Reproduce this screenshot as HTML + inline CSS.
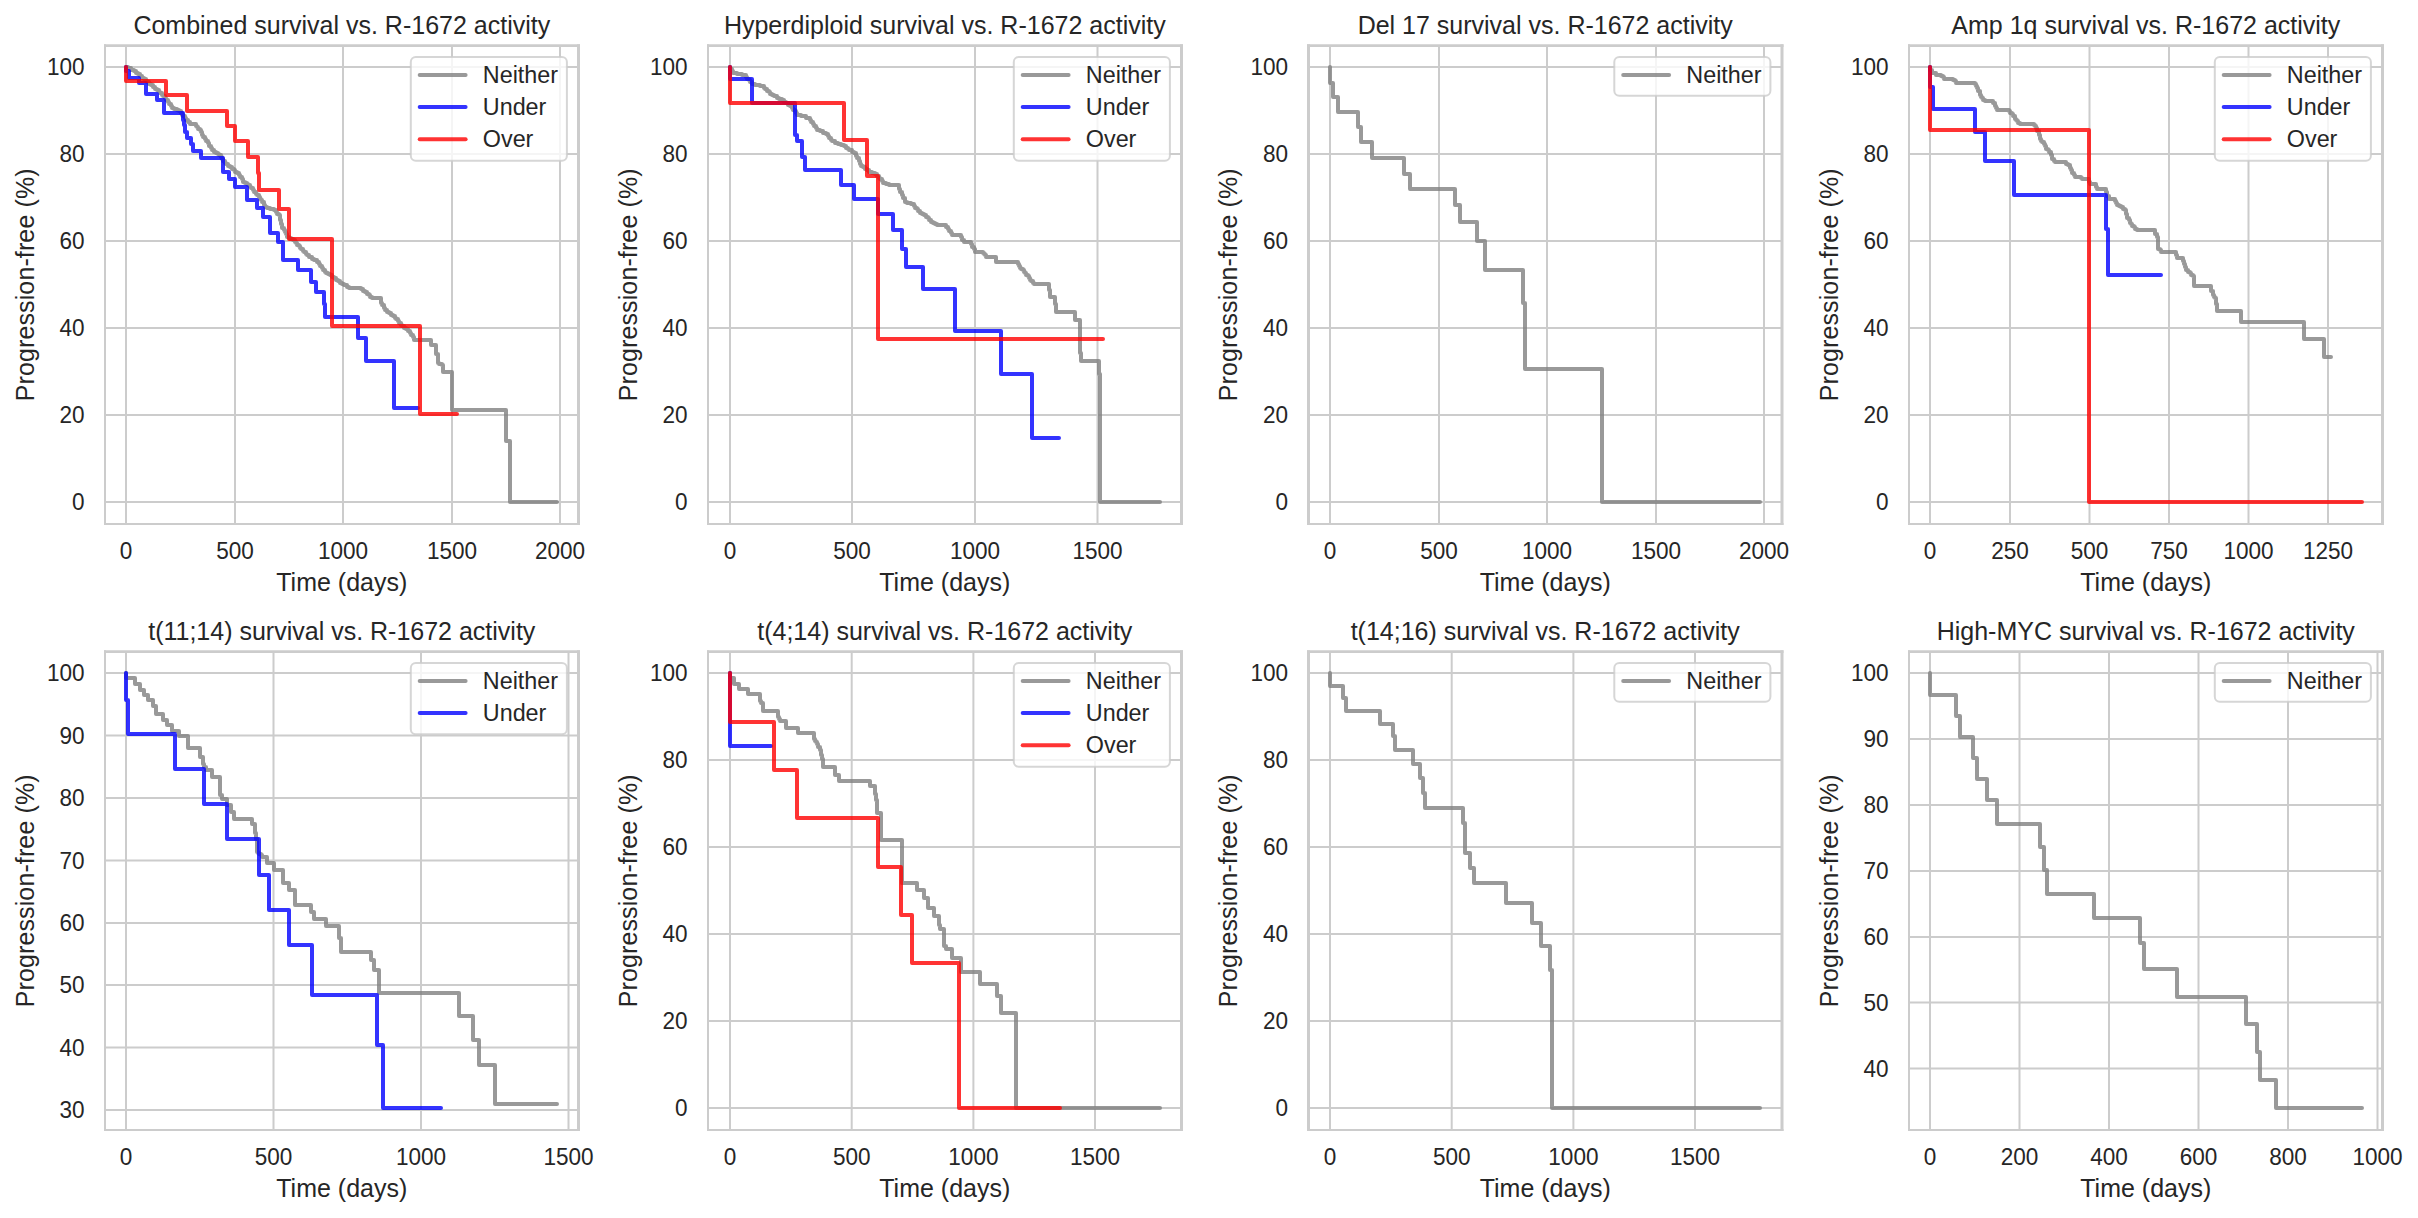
<!DOCTYPE html>
<html lang="en">
<head>
<meta charset="utf-8">
<title>Survival vs. R-1672 activity</title>
<style>
html,body{margin:0;padding:0;background:#ffffff;}
body{width:2418px;height:1218px;overflow:hidden;}
svg{display:block;}
text{font-family:"Liberation Sans",Arial,Helvetica,sans-serif;fill:#262626;}
.tk{font-size:22.9px;}
.lb{font-size:25px;}
.g{stroke:#cccccc;stroke-width:2.0;fill:none;}
.sp{stroke:#cccccc;stroke-width:2.5;fill:none;stroke-linecap:butt;}
.ln{fill:none;stroke-width:4.0;stroke-opacity:0.8;stroke-linejoin:round;stroke-linecap:round;}
.lg{fill:#ffffff;fill-opacity:0.8;stroke:#cccccc;stroke-opacity:0.8;stroke-width:2;}
</style>
</head>
<body>
<svg width="2418" height="1218" viewBox="0 0 2418 1218">
<rect x="0" y="0" width="2418" height="1218" fill="#ffffff"/>
<g id="panel1">
<path class="g" d="M126 45.6V524M235 45.6V524M343 45.6V524M452 45.6V524M560 45.6V524M105 67H578.5M105 154H578.5M105 241H578.5M105 328H578.5M105 415H578.5M105 502H578.5"/>
<polyline class="ln" stroke="#808080" points="126,67 128,67 128,68 131,68 131,70 134,70 134,71 135,71 136,71 136,73 138,73 138,74 140,74 140,76 142,76 142,78 143,78 144,78 144,79 146,79 146,81 147,81 147,82 149,82 149,84 150,84 151,84 151,85 153,85 153,87 155,87 155,89 157,89 157,90 158,90 159,90 159,92 160,92 160,93 162,93 162,95 163,95 163,96 165,96 165,98 166,98 166,100 168,100 168,102 169,102 169,104 171,104 171,106 172,106 172,108 173,108 174,108 174,109 177,109 177,110 179,110 179,111 180,111 181,111 181,113 182,113 182,115 183,115 183,116 184,116 185,116 185,118 186,118 186,120 188,120 188,122 190,122 190,124 195,124 196,124 196,126 197,126 197,127 198,127 198,129 200,129 200,130 201,130 201,132 202,132 202,135 203,135 203,137 205,137 205,139 206,139 206,141 208,141 208,143 209,143 209,146 211,146 211,148 212,148 212,150 213,150 214,150 214,152 216,152 216,153 218,153 218,154 219,154 219,155 220,155 221,155 221,157 222,157 222,159 223,159 223,161 225,161 225,163 226,163 226,164 228,164 228,166 230,166 230,167 232,167 232,169 233,169 234,169 234,170 235,170 235,172 237,172 237,173 238,173 239,173 239,175 240,175 240,177 242,177 242,179 243,179 243,182 244,182 245,182 245,183 247,183 247,184 248,184 248,185 250,185 250,187 251,187 251,188 253,188 253,190 254,190 254,192 256,192 256,194 257,194 257,195 258,195 259,195 259,197 260,197 260,199 261,199 261,200 262,200 262,202 264,202 264,205 265,205 265,207 267,207 267,208 270,208 270,209 274,209 274,210 275,210 276,210 276,212 277,212 277,214 279,214 279,215 280,215 280,220 281,220 281,224 282,224 282,228 283,228 284,228 284,230 285,230 285,232 286,232 286,234 287,234 287,237 288,237 289,237 289,238 291,238 291,239 293,239 293,240 295,240 295,242 296,242 296,243 297,243 297,245 299,245 299,246 300,246 300,248 301,248 301,249 303,249 303,251 304,251 304,252 306,252 306,254 307,254 307,255 308,255 309,255 309,257 312,257 312,259 314,259 314,260 317,260 317,262 318,262 319,262 319,264 320,264 320,266 322,266 322,268 323,268 323,270 325,270 325,272 326,272 326,273 328,273 328,274 330,274 330,275 332,275 332,277 333,277 334,277 334,278 336,278 336,280 338,280 338,281 340,281 340,283 342,283 342,284 343,284 344,284 344,285 347,285 347,287 349,287 349,288 351,288 361,288 361,289 363,289 363,291 365,291 365,292 367,292 367,294 369,294 369,295 370,295 370,297 372,297 372,298 373,298 381,298 381,303 382,303 382,305 384,305 384,308 385,308 385,310 386,310 387,310 387,312 389,312 389,313 391,313 391,315 393,315 393,316 395,316 395,318 396,318 396,319 398,319 398,321 399,321 399,323 401,323 401,325 402,325 402,326 403,326 404,326 404,328 406,328 406,329 408,329 408,331 410,331 410,333 411,333 411,335 413,335 413,337 414,337 414,340 431,340 431,345 436,345 436,354 438,354 438,363 439,363 439,364 442,364 442,365 443,365 443,372 452,372 452,380 452,410 506,410 506,441 510,441 510,502 557,502"/>
<polyline class="ln" stroke="#0000ff" points="126,67 126,71 129,71 129,78 139,78 139,83 146,83 146,94 157,94 157,100 164,100 164,113 183,113 183,120 184,120 184,125 185,125 185,132 187,132 187,138 191,138 191,144 193,144 193,151 201,151 201,158 223,158 223,172 229,172 229,179 235,179 235,187 247,187 247,200 257,200 257,208 263,208 263,217 270,217 270,233 278,233 278,242 283,242 283,260 298,260 298,270 311,270 311,282 316,282 316,292 324,292 324,304 325,304 325,317 358,317 358,338 366,338 366,361 394,361 394,408 418,408"/>
<polyline class="ln" stroke="#ff0000" points="126,67 126,81 166,81 166,95 187,95 187,111 227,111 227,126 235,126 235,141 248,141 248,157 258,157 258,173 259,173 259,190 279,190 279,209 289,209 289,239 332,239 332,303 332,326 420,326 420,414 457,414"/>
<path class="sp" style="stroke-width:2" d="M105 44.3V525"/>
<path class="sp" style="stroke-width:3" d="M578.5 44.3V525"/>
<path class="sp" style="stroke-width:2.7" d="M104 45.6H580"/>
<path class="sp" style="stroke-width:2" d="M104 524H580"/>
<text class="tk" transform="translate(126 558.6) scale(0.985 1.04)" text-anchor="middle">0</text>
<text class="tk" transform="translate(235 558.6) scale(0.985 1.04)" text-anchor="middle">500</text>
<text class="tk" transform="translate(343 558.6) scale(0.985 1.04)" text-anchor="middle">1000</text>
<text class="tk" transform="translate(452 558.6) scale(0.985 1.04)" text-anchor="middle">1500</text>
<text class="tk" transform="translate(560 558.6) scale(0.985 1.04)" text-anchor="middle">2000</text>
<text class="tk" transform="translate(84.6 75) scale(0.985 1.04)" text-anchor="end">100</text>
<text class="tk" transform="translate(84.6 162) scale(0.985 1.04)" text-anchor="end">80</text>
<text class="tk" transform="translate(84.6 249) scale(0.985 1.04)" text-anchor="end">60</text>
<text class="tk" transform="translate(84.6 336) scale(0.985 1.04)" text-anchor="end">40</text>
<text class="tk" transform="translate(84.6 423) scale(0.985 1.04)" text-anchor="end">20</text>
<text class="tk" transform="translate(84.6 510) scale(0.985 1.04)" text-anchor="end">0</text>
<text class="lb" x="341.8" y="591" text-anchor="middle">Time (days)</text>
<text class="lb" style="letter-spacing:0.12px" transform="translate(33.7 284.8) rotate(-90)" text-anchor="middle">Progression-free (%)</text>
<text class="lb" x="341.8" y="33.6" text-anchor="middle">Combined survival vs. R-1672 activity</text>
<rect class="lg" x="410.8" y="56.9" width="156.1" height="103.8" rx="5" ry="5"/>
<path class="ln" stroke="#808080" d="M419.7 75H465.6"/>
<text class="tk" transform="translate(482.8 82.8) scale(1.02 1.02)">Neither</text>
<path class="ln" stroke="#0000ff" d="M419.7 106.9H465.6"/>
<text class="tk" transform="translate(482.8 115) scale(1.02 1.02)">Under</text>
<path class="ln" stroke="#ff0000" d="M419.7 139.2H465.6"/>
<text class="tk" transform="translate(482.8 147.2) scale(1.02 1.02)">Over</text>
</g>
<g id="panel2">
<path class="g" d="M730 45.6V524M852 45.6V524M975 45.6V524M1097.5 45.6V524M708 67H1181.5M708 154H1181.5M708 241H1181.5M708 328H1181.5M708 415H1181.5M708 502H1181.5"/>
<polyline class="ln" stroke="#808080" points="730,67 730,69 732,69 732,71 733,71 733,73 734,73 737,73 737,74 742,74 742,75 745,75 746,75 746,77 747,77 747,79 749,79 749,80 750,80 750,82 752,82 752,84 753,84 755,84 755,85 760,85 760,86 763,86 764,86 764,88 765,88 765,89 767,89 767,91 769,91 769,92 770,92 770,94 772,94 772,95 773,95 774,95 774,96 777,96 777,98 779,98 779,99 782,99 782,100 783,100 784,100 784,102 786,102 786,103 788,103 788,105 790,105 790,106 792,106 792,108 793,108 793,110 795,110 795,111 796,111 796,113 797,113 797,115 798,115 801,115 801,116 806,116 806,118 809,118 810,118 810,120 811,120 811,122 813,122 813,124 814,124 814,126 816,126 816,128 817,128 817,130 818,130 820,130 820,131 823,131 823,133 825,133 826,133 826,134 828,134 828,136 829,136 829,138 831,138 831,140 832,140 832,141 833,141 835,141 835,143 838,143 838,144 841,144 841,145 843,145 844,145 844,146 846,146 846,148 848,148 848,149 849,149 849,150 850,150 852,150 852,152 854,152 854,153 855,153 856,153 856,156 857,156 857,158 859,158 859,161 860,161 860,164 861,164 861,166 863,166 863,167 865,167 865,169 867,169 867,170 868,170 869,170 869,172 872,172 872,173 875,173 875,174 877,174 877,176 879,176 879,178 880,178 880,179 882,179 882,181 883,181 883,183 884,183 886,183 886,184 889,184 889,185 890,185 898,185 899,185 899,189 900,189 900,192 902,192 902,195 903,195 903,198 905,198 905,202 906,202 907,202 907,203 911,203 911,204 913,204 914,204 914,206 915,206 915,208 917,208 917,209 918,209 918,211 920,211 920,213 921,213 922,213 922,214 924,214 924,215 926,215 926,217 928,217 928,218 929,218 929,220 931,220 931,222 932,222 933,222 933,223 935,223 935,224 937,224 937,225 938,225 946,225 946,227 948,227 948,229 949,229 949,231 951,231 951,233 952,233 952,235 953,235 961,235 961,237 962,237 962,240 964,240 964,242 971,242 971,244 972,244 972,247 974,247 974,249 975,249 975,252 976,252 982,252 983,252 983,253 984,253 984,254 985,254 985,255 986,255 986,257 987,257 996,257 996,262 1017,262 1018,262 1018,264 1019,264 1019,266 1020,266 1020,268 1021,268 1021,269 1023,269 1023,270 1024,270 1024,272 1025,272 1025,273 1026,273 1026,275 1028,275 1028,276 1029,276 1029,278 1030,278 1030,280 1031,280 1031,281 1033,281 1033,283 1034,283 1034,284 1048,284 1049,284 1049,290 1050,290 1050,297 1051,297 1055,297 1055,303 1055,304 1056,304 1056,312 1075,312 1075,320 1080,320 1080,330 1080,345 1080,353 1081,353 1081,361 1082,361 1099,361 1099,374 1100,374 1100,502 1160,502"/>
<polyline class="ln" stroke="#0000ff" points="730,67 730,79 752,79 752,103 795,103 795,115 795,129 795,135 797,135 797,141 798,141 802,141 802,157 805,157 805,170 841,170 841,185 854,185 854,199 878,199 878,214 893,214 893,230 902,230 902,249 906,249 906,267 923,267 923,289 955,289 955,303 955,331 1001,331 1001,374 1032,374 1032,438 1059,438"/>
<polyline class="ln" stroke="#ff0000" points="730,67 730,103 844,103 844,140 867,140 867,176 878,176 878,303 878,339 1103,339"/>
<path class="sp" style="stroke-width:2" d="M708 44.3V525"/>
<path class="sp" style="stroke-width:3" d="M1181.5 44.3V525"/>
<path class="sp" style="stroke-width:2.7" d="M707 45.6H1183"/>
<path class="sp" style="stroke-width:2" d="M707 524H1183"/>
<text class="tk" transform="translate(730 558.6) scale(0.985 1.04)" text-anchor="middle">0</text>
<text class="tk" transform="translate(852 558.6) scale(0.985 1.04)" text-anchor="middle">500</text>
<text class="tk" transform="translate(975 558.6) scale(0.985 1.04)" text-anchor="middle">1000</text>
<text class="tk" transform="translate(1097.5 558.6) scale(0.985 1.04)" text-anchor="middle">1500</text>
<text class="tk" transform="translate(687.6 75) scale(0.985 1.04)" text-anchor="end">100</text>
<text class="tk" transform="translate(687.6 162) scale(0.985 1.04)" text-anchor="end">80</text>
<text class="tk" transform="translate(687.6 249) scale(0.985 1.04)" text-anchor="end">60</text>
<text class="tk" transform="translate(687.6 336) scale(0.985 1.04)" text-anchor="end">40</text>
<text class="tk" transform="translate(687.6 423) scale(0.985 1.04)" text-anchor="end">20</text>
<text class="tk" transform="translate(687.6 510) scale(0.985 1.04)" text-anchor="end">0</text>
<text class="lb" x="944.8" y="591" text-anchor="middle">Time (days)</text>
<text class="lb" style="letter-spacing:0.12px" transform="translate(636.7 284.8) rotate(-90)" text-anchor="middle">Progression-free (%)</text>
<text class="lb" x="944.8" y="33.6" text-anchor="middle">Hyperdiploid survival vs. R-1672 activity</text>
<rect class="lg" x="1013.8" y="56.9" width="156.1" height="103.8" rx="5" ry="5"/>
<path class="ln" stroke="#808080" d="M1022.7 75H1068.6"/>
<text class="tk" transform="translate(1085.8 82.8) scale(1.02 1.02)">Neither</text>
<path class="ln" stroke="#0000ff" d="M1022.7 106.9H1068.6"/>
<text class="tk" transform="translate(1085.8 115) scale(1.02 1.02)">Under</text>
<path class="ln" stroke="#ff0000" d="M1022.7 139.2H1068.6"/>
<text class="tk" transform="translate(1085.8 147.2) scale(1.02 1.02)">Over</text>
</g>
<g id="panel3">
<path class="g" d="M1330 45.6V524M1439 45.6V524M1547 45.6V524M1656 45.6V524M1764 45.6V524M1308.5 67H1782M1308.5 154H1782M1308.5 241H1782M1308.5 328H1782M1308.5 415H1782M1308.5 502H1782"/>
<polyline class="ln" stroke="#808080" points="1330,67 1330,83 1333,83 1333,97 1338,97 1338,112 1358,112 1358,127 1361,127 1361,142 1372,142 1372,158 1404,158 1404,174 1410,174 1410,189 1455,189 1455,205 1460,205 1460,222 1477,222 1477,241 1485,241 1485,270 1523,270 1523,303 1525,303 1525,369 1602,369 1602,502 1760,502"/>
<path class="sp" style="stroke-width:3" d="M1308.5 44.3V525"/>
<path class="sp" style="stroke-width:3" d="M1782 44.3V525"/>
<path class="sp" style="stroke-width:2.7" d="M1307 45.6H1783.5"/>
<path class="sp" style="stroke-width:2" d="M1307 524H1783.5"/>
<text class="tk" transform="translate(1330 558.6) scale(0.985 1.04)" text-anchor="middle">0</text>
<text class="tk" transform="translate(1439 558.6) scale(0.985 1.04)" text-anchor="middle">500</text>
<text class="tk" transform="translate(1547 558.6) scale(0.985 1.04)" text-anchor="middle">1000</text>
<text class="tk" transform="translate(1656 558.6) scale(0.985 1.04)" text-anchor="middle">1500</text>
<text class="tk" transform="translate(1764 558.6) scale(0.985 1.04)" text-anchor="middle">2000</text>
<text class="tk" transform="translate(1288.1 75) scale(0.985 1.04)" text-anchor="end">100</text>
<text class="tk" transform="translate(1288.1 162) scale(0.985 1.04)" text-anchor="end">80</text>
<text class="tk" transform="translate(1288.1 249) scale(0.985 1.04)" text-anchor="end">60</text>
<text class="tk" transform="translate(1288.1 336) scale(0.985 1.04)" text-anchor="end">40</text>
<text class="tk" transform="translate(1288.1 423) scale(0.985 1.04)" text-anchor="end">20</text>
<text class="tk" transform="translate(1288.1 510) scale(0.985 1.04)" text-anchor="end">0</text>
<text class="lb" x="1545.2" y="591" text-anchor="middle">Time (days)</text>
<text class="lb" style="letter-spacing:0.12px" transform="translate(1237.2 284.8) rotate(-90)" text-anchor="middle">Progression-free (%)</text>
<text class="lb" x="1545.2" y="33.6" text-anchor="middle">Del 17 survival vs. R-1672 activity</text>
<rect class="lg" x="1614.3" y="56.9" width="156.1" height="38.8" rx="5" ry="5"/>
<path class="ln" stroke="#808080" d="M1623.2 75H1669.1"/>
<text class="tk" transform="translate(1686.3 82.8) scale(1.02 1.02)">Neither</text>
</g>
<g id="panel4">
<path class="g" d="M1930 45.6V524M2010 45.6V524M2089.5 45.6V524M2169 45.6V524M2248.5 45.6V524M2328 45.6V524M1909 67H2382.5M1909 154H2382.5M1909 241H2382.5M1909 328H2382.5M1909 415H2382.5M1909 502H2382.5"/>
<polyline class="ln" stroke="#808080" points="1930,67 1930,70 1932,70 1932,73 1933,73 1936,73 1936,75 1940,75 1941,75 1941,76 1943,76 1943,77 1944,77 1944,79 1945,79 1953,79 1953,80 1955,80 1955,81 1956,81 1956,83 1957,83 1974,83 1975,83 1975,84 1976,84 1976,86 1977,86 1977,88 1978,88 1978,91 1980,91 1980,95 1981,95 1981,97 1982,97 1982,98 1983,98 1983,100 1985,100 1985,101 1993,101 1993,103 1995,103 1995,106 1996,106 1996,108 1997,108 1997,110 1998,110 2008,110 2009,110 2009,111 2010,111 2010,113 2012,113 2012,114 2013,114 2013,116 2015,116 2015,119 2016,119 2016,120 2017,120 2017,121 2018,121 2018,123 2020,123 2020,124 2033,124 2034,124 2034,125 2035,125 2035,126 2036,126 2036,128 2037,128 2037,131 2039,131 2039,135 2040,135 2040,139 2041,139 2041,141 2042,141 2042,142 2044,142 2044,144 2045,144 2045,146 2046,146 2046,149 2047,149 2048,149 2048,150 2049,150 2049,152 2050,152 2051,152 2051,155 2052,155 2052,159 2053,159 2054,159 2054,161 2055,161 2055,162 2065,162 2066,162 2066,164 2068,164 2068,165 2069,165 2070,165 2070,168 2071,168 2071,170 2072,170 2072,173 2073,173 2074,173 2074,175 2075,175 2075,177 2080,177 2081,177 2081,178 2082,178 2082,179 2083,179 2088,179 2089,179 2089,182 2090,182 2090,184 2095,184 2096,184 2096,187 2097,187 2097,189 2098,189 2106,189 2106,192 2107,192 2107,196 2109,196 2109,199 2114,199 2115,199 2115,201 2116,201 2116,203 2117,203 2117,205 2118,205 2119,205 2119,206 2121,206 2121,207 2122,207 2123,207 2123,209 2125,209 2125,210 2126,210 2126,214 2127,214 2127,218 2128,218 2129,218 2129,220 2130,220 2130,223 2131,223 2131,224 2132,224 2132,226 2134,226 2134,227 2135,227 2135,229 2137,229 2137,230 2138,230 2154,230 2155,230 2155,234 2157,234 2157,237 2158,237 2158,247 2158,249 2160,249 2160,250 2161,250 2161,252 2162,252 2176,252 2176,255 2177,255 2177,258 2178,258 2182,258 2183,258 2183,261 2184,261 2184,264 2185,264 2185,267 2186,267 2186,270 2187,270 2188,270 2188,272 2190,272 2190,273 2191,273 2191,275 2193,275 2193,276 2194,276 2194,278 2194,286 2211,286 2211,291 2213,291 2213,295 2214,295 2214,297 2215,297 2215,298 2216,298 2216,303 2216,304 2217,304 2217,311 2241,311 2241,322 2304,322 2304,339 2324,339 2324,357 2331,357"/>
<polyline class="ln" stroke="#0000ff" points="1930,67 1930,87 1933,87 1933,109 1975,109 1975,132 1985,132 1985,161 2014,161 2014,195 2106,195 2106,229 2108,229 2108,275 2161,275"/>
<polyline class="ln" stroke="#ff0000" points="1930,67 1930,130 2089,130 2089,303 2089,502 2362,502"/>
<path class="sp" style="stroke-width:2" d="M1909 44.3V525"/>
<path class="sp" style="stroke-width:3" d="M2382.5 44.3V525"/>
<path class="sp" style="stroke-width:2.7" d="M1908 45.6H2384"/>
<path class="sp" style="stroke-width:2" d="M1908 524H2384"/>
<text class="tk" transform="translate(1930 558.6) scale(0.985 1.04)" text-anchor="middle">0</text>
<text class="tk" transform="translate(2010 558.6) scale(0.985 1.04)" text-anchor="middle">250</text>
<text class="tk" transform="translate(2089.5 558.6) scale(0.985 1.04)" text-anchor="middle">500</text>
<text class="tk" transform="translate(2169 558.6) scale(0.985 1.04)" text-anchor="middle">750</text>
<text class="tk" transform="translate(2248.5 558.6) scale(0.985 1.04)" text-anchor="middle">1000</text>
<text class="tk" transform="translate(2328 558.6) scale(0.985 1.04)" text-anchor="middle">1250</text>
<text class="tk" transform="translate(1888.6 75) scale(0.985 1.04)" text-anchor="end">100</text>
<text class="tk" transform="translate(1888.6 162) scale(0.985 1.04)" text-anchor="end">80</text>
<text class="tk" transform="translate(1888.6 249) scale(0.985 1.04)" text-anchor="end">60</text>
<text class="tk" transform="translate(1888.6 336) scale(0.985 1.04)" text-anchor="end">40</text>
<text class="tk" transform="translate(1888.6 423) scale(0.985 1.04)" text-anchor="end">20</text>
<text class="tk" transform="translate(1888.6 510) scale(0.985 1.04)" text-anchor="end">0</text>
<text class="lb" x="2145.8" y="591" text-anchor="middle">Time (days)</text>
<text class="lb" style="letter-spacing:0.12px" transform="translate(1837.7 284.8) rotate(-90)" text-anchor="middle">Progression-free (%)</text>
<text class="lb" x="2145.8" y="33.6" text-anchor="middle">Amp 1q survival vs. R-1672 activity</text>
<rect class="lg" x="2214.8" y="56.9" width="156.1" height="103.8" rx="5" ry="5"/>
<path class="ln" stroke="#808080" d="M2223.7 75H2269.6"/>
<text class="tk" transform="translate(2286.8 82.8) scale(1.02 1.02)">Neither</text>
<path class="ln" stroke="#0000ff" d="M2223.7 106.9H2269.6"/>
<text class="tk" transform="translate(2286.8 115) scale(1.02 1.02)">Under</text>
<path class="ln" stroke="#ff0000" d="M2223.7 139.2H2269.6"/>
<text class="tk" transform="translate(2286.8 147.2) scale(1.02 1.02)">Over</text>
</g>
<g id="panel5">
<path class="g" d="M126 651.6V1130M273.5 651.6V1130M421 651.6V1130M568.5 651.6V1130M105 673H578.5M105 735.5H578.5M105 798H578.5M105 860.5H578.5M105 923H578.5M105 985H578.5M105 1047.5H578.5M105 1110H578.5"/>
<polyline class="ln" stroke="#808080" points="126,673 126,678 135,678 135,684 140,684 140,690 144,690 144,695 148,695 148,700 153,700 153,706 156,706 156,714 163,714 163,720 167,720 167,725 172,725 172,731 179,731 179,736 188,736 188,748 200,748 200,757 203,757 203,764 204,764 204,767 206,767 206,770 207,770 212,770 212,777 220,777 220,792 220,795 222,795 222,799 227,799 227,805 231,805 231,812 234,812 234,819 252,819 252,824 255,824 255,833 256,833 256,839 257,839 257,845 257,852 258,852 258,853 259,853 259,854 261,854 261,855 262,855 262,857 267,857 267,863 274,863 274,870 283,870 283,883 289,883 289,890 295,890 295,905 311,905 311,912 314,912 314,919 326,919 326,926 339,926 339,935 339,938 341,938 341,941 341,952 371,952 371,960 374,960 374,970 379,970 379,993 459,993 459,1016 473,1016 473,1040 479,1040 479,1065 495,1065 495,1104 557,1104"/>
<polyline class="ln" stroke="#0000ff" points="126,673 126,700 128,700 128,734 175,734 175,769 204,769 204,804 227,804 227,839 259,839 259,875 269,875 269,908 269,910 289,910 289,945 312,945 312,995 377,995 377,1045 383,1045 383,1108 441,1108"/>
<path class="sp" style="stroke-width:2" d="M105 650.3V1131"/>
<path class="sp" style="stroke-width:3" d="M578.5 650.3V1131"/>
<path class="sp" style="stroke-width:2.7" d="M104 651.6H580"/>
<path class="sp" style="stroke-width:2" d="M104 1130H580"/>
<text class="tk" transform="translate(126 1164.6) scale(0.985 1.04)" text-anchor="middle">0</text>
<text class="tk" transform="translate(273.5 1164.6) scale(0.985 1.04)" text-anchor="middle">500</text>
<text class="tk" transform="translate(421 1164.6) scale(0.985 1.04)" text-anchor="middle">1000</text>
<text class="tk" transform="translate(568.5 1164.6) scale(0.985 1.04)" text-anchor="middle">1500</text>
<text class="tk" transform="translate(84.6 681) scale(0.985 1.04)" text-anchor="end">100</text>
<text class="tk" transform="translate(84.6 743.5) scale(0.985 1.04)" text-anchor="end">90</text>
<text class="tk" transform="translate(84.6 806) scale(0.985 1.04)" text-anchor="end">80</text>
<text class="tk" transform="translate(84.6 868.5) scale(0.985 1.04)" text-anchor="end">70</text>
<text class="tk" transform="translate(84.6 931) scale(0.985 1.04)" text-anchor="end">60</text>
<text class="tk" transform="translate(84.6 993) scale(0.985 1.04)" text-anchor="end">50</text>
<text class="tk" transform="translate(84.6 1055.5) scale(0.985 1.04)" text-anchor="end">40</text>
<text class="tk" transform="translate(84.6 1118) scale(0.985 1.04)" text-anchor="end">30</text>
<text class="lb" x="341.8" y="1197" text-anchor="middle">Time (days)</text>
<text class="lb" style="letter-spacing:0.12px" transform="translate(33.7 890.8) rotate(-90)" text-anchor="middle">Progression-free (%)</text>
<text class="lb" x="341.8" y="639.6" text-anchor="middle">t(11;14) survival vs. R-1672 activity</text>
<rect class="lg" x="410.8" y="662.9" width="156.1" height="71.3" rx="5" ry="5"/>
<path class="ln" stroke="#808080" d="M419.7 681H465.6"/>
<text class="tk" transform="translate(482.8 688.8) scale(1.02 1.02)">Neither</text>
<path class="ln" stroke="#0000ff" d="M419.7 712.9H465.6"/>
<text class="tk" transform="translate(482.8 721) scale(1.02 1.02)">Under</text>
</g>
<g id="panel6">
<path class="g" d="M730 651.6V1130M851.7 651.6V1130M973.4 651.6V1130M1095 651.6V1130M708 673H1181.5M708 760H1181.5M708 847H1181.5M708 934H1181.5M708 1021H1181.5M708 1108H1181.5"/>
<polyline class="ln" stroke="#808080" points="730,673 730,678 734,678 734,684 739,684 739,689 748,689 748,694 760,694 760,701 761,701 761,703 763,703 763,705 763,711 778,711 778,717 779,717 779,719 780,719 780,721 781,721 786,721 786,728 798,728 798,733 814,733 814,739 815,739 815,741 816,741 816,742 817,742 817,744 818,744 818,747 820,747 820,750 821,750 821,755 822,755 822,759 823,759 823,767 835,767 835,775 839,775 839,781 870,781 870,786 875,786 875,794 876,794 876,800 877,800 877,805 877,813 881,813 881,830 881,840 902,840 902,867 902,883 917,883 917,890 924,890 924,898 928,898 928,908 929,908 934,908 934,916 939,916 939,922 939,925 940,925 940,929 941,929 944,929 944,937 944,943 944,946 946,946 946,949 947,949 952,949 952,958 961,958 961,972 980,972 980,984 997,984 997,996 1001,996 1001,1013 1016,1013 1016,1108 1160,1108"/>
<polyline class="ln" stroke="#0000ff" points="730,673 730,746 771,746"/>
<polyline class="ln" stroke="#ff0000" points="730,673 730,722 774,722 774,770 797,770 797,818 878,818 878,867 901,867 901,908 901,915 912,915 912,963 959,963 959,1108 1060,1108"/>
<path class="sp" style="stroke-width:2" d="M708 650.3V1131"/>
<path class="sp" style="stroke-width:3" d="M1181.5 650.3V1131"/>
<path class="sp" style="stroke-width:2.7" d="M707 651.6H1183"/>
<path class="sp" style="stroke-width:2" d="M707 1130H1183"/>
<text class="tk" transform="translate(730 1164.6) scale(0.985 1.04)" text-anchor="middle">0</text>
<text class="tk" transform="translate(851.7 1164.6) scale(0.985 1.04)" text-anchor="middle">500</text>
<text class="tk" transform="translate(973.4 1164.6) scale(0.985 1.04)" text-anchor="middle">1000</text>
<text class="tk" transform="translate(1095 1164.6) scale(0.985 1.04)" text-anchor="middle">1500</text>
<text class="tk" transform="translate(687.6 681) scale(0.985 1.04)" text-anchor="end">100</text>
<text class="tk" transform="translate(687.6 768) scale(0.985 1.04)" text-anchor="end">80</text>
<text class="tk" transform="translate(687.6 855) scale(0.985 1.04)" text-anchor="end">60</text>
<text class="tk" transform="translate(687.6 942) scale(0.985 1.04)" text-anchor="end">40</text>
<text class="tk" transform="translate(687.6 1029) scale(0.985 1.04)" text-anchor="end">20</text>
<text class="tk" transform="translate(687.6 1116) scale(0.985 1.04)" text-anchor="end">0</text>
<text class="lb" x="944.8" y="1197" text-anchor="middle">Time (days)</text>
<text class="lb" style="letter-spacing:0.12px" transform="translate(636.7 890.8) rotate(-90)" text-anchor="middle">Progression-free (%)</text>
<text class="lb" x="944.8" y="639.6" text-anchor="middle">t(4;14) survival vs. R-1672 activity</text>
<rect class="lg" x="1013.8" y="662.9" width="156.1" height="103.8" rx="5" ry="5"/>
<path class="ln" stroke="#808080" d="M1022.7 681H1068.6"/>
<text class="tk" transform="translate(1085.8 688.8) scale(1.02 1.02)">Neither</text>
<path class="ln" stroke="#0000ff" d="M1022.7 712.9H1068.6"/>
<text class="tk" transform="translate(1085.8 721) scale(1.02 1.02)">Under</text>
<path class="ln" stroke="#ff0000" d="M1022.7 745.2H1068.6"/>
<text class="tk" transform="translate(1085.8 753.2) scale(1.02 1.02)">Over</text>
</g>
<g id="panel7">
<path class="g" d="M1330 651.6V1130M1451.7 651.6V1130M1573.4 651.6V1130M1695 651.6V1130M1308.5 673H1782M1308.5 760H1782M1308.5 847H1782M1308.5 934H1782M1308.5 1021H1782M1308.5 1108H1782"/>
<polyline class="ln" stroke="#808080" points="1330,673 1330,686 1343,686 1343,698 1346,698 1346,711 1380,711 1380,724 1393,724 1393,736 1395,736 1395,750 1413,750 1413,764 1420,764 1420,778 1423,778 1423,793 1425,793 1425,808 1463,808 1463,823 1465,823 1465,853 1470,853 1470,868 1474,868 1474,883 1506,883 1506,903 1532,903 1532,908 1532,923 1541,923 1541,946 1550,946 1550,970 1552,970 1552,1108 1760,1108"/>
<path class="sp" style="stroke-width:3" d="M1308.5 650.3V1131"/>
<path class="sp" style="stroke-width:3" d="M1782 650.3V1131"/>
<path class="sp" style="stroke-width:2.7" d="M1307 651.6H1783.5"/>
<path class="sp" style="stroke-width:2" d="M1307 1130H1783.5"/>
<text class="tk" transform="translate(1330 1164.6) scale(0.985 1.04)" text-anchor="middle">0</text>
<text class="tk" transform="translate(1451.7 1164.6) scale(0.985 1.04)" text-anchor="middle">500</text>
<text class="tk" transform="translate(1573.4 1164.6) scale(0.985 1.04)" text-anchor="middle">1000</text>
<text class="tk" transform="translate(1695 1164.6) scale(0.985 1.04)" text-anchor="middle">1500</text>
<text class="tk" transform="translate(1288.1 681) scale(0.985 1.04)" text-anchor="end">100</text>
<text class="tk" transform="translate(1288.1 768) scale(0.985 1.04)" text-anchor="end">80</text>
<text class="tk" transform="translate(1288.1 855) scale(0.985 1.04)" text-anchor="end">60</text>
<text class="tk" transform="translate(1288.1 942) scale(0.985 1.04)" text-anchor="end">40</text>
<text class="tk" transform="translate(1288.1 1029) scale(0.985 1.04)" text-anchor="end">20</text>
<text class="tk" transform="translate(1288.1 1116) scale(0.985 1.04)" text-anchor="end">0</text>
<text class="lb" x="1545.2" y="1197" text-anchor="middle">Time (days)</text>
<text class="lb" style="letter-spacing:0.12px" transform="translate(1237.2 890.8) rotate(-90)" text-anchor="middle">Progression-free (%)</text>
<text class="lb" x="1545.2" y="639.6" text-anchor="middle">t(14;16) survival vs. R-1672 activity</text>
<rect class="lg" x="1614.3" y="662.9" width="156.1" height="38.8" rx="5" ry="5"/>
<path class="ln" stroke="#808080" d="M1623.2 681H1669.1"/>
<text class="tk" transform="translate(1686.3 688.8) scale(1.02 1.02)">Neither</text>
</g>
<g id="panel8">
<path class="g" d="M1930 651.6V1130M2019.5 651.6V1130M2109 651.6V1130M2198.5 651.6V1130M2288 651.6V1130M2377.5 651.6V1130M1909 673H2382.5M1909 739H2382.5M1909 805H2382.5M1909 871H2382.5M1909 937H2382.5M1909 1002.5H2382.5M1909 1068.5H2382.5"/>
<polyline class="ln" stroke="#808080" points="1930,673 1930,695 1956,695 1956,716 1960,716 1960,737 1973,737 1973,758 1977,758 1977,779 1987,779 1987,800 1997,800 1997,824 2040,824 2040,847 2044,847 2044,870 2047,870 2047,894 2094,894 2094,908 2094,918 2140,918 2140,943 2144,943 2144,969 2177,969 2177,997 2246,997 2246,1024 2257,1024 2257,1052 2260,1052 2260,1080 2276,1080 2276,1108 2362,1108"/>
<path class="sp" style="stroke-width:2" d="M1909 650.3V1131"/>
<path class="sp" style="stroke-width:3" d="M2382.5 650.3V1131"/>
<path class="sp" style="stroke-width:2.7" d="M1908 651.6H2384"/>
<path class="sp" style="stroke-width:2" d="M1908 1130H2384"/>
<text class="tk" transform="translate(1930 1164.6) scale(0.985 1.04)" text-anchor="middle">0</text>
<text class="tk" transform="translate(2019.5 1164.6) scale(0.985 1.04)" text-anchor="middle">200</text>
<text class="tk" transform="translate(2109 1164.6) scale(0.985 1.04)" text-anchor="middle">400</text>
<text class="tk" transform="translate(2198.5 1164.6) scale(0.985 1.04)" text-anchor="middle">600</text>
<text class="tk" transform="translate(2288 1164.6) scale(0.985 1.04)" text-anchor="middle">800</text>
<text class="tk" transform="translate(2377.5 1164.6) scale(0.985 1.04)" text-anchor="middle">1000</text>
<text class="tk" transform="translate(1888.6 681) scale(0.985 1.04)" text-anchor="end">100</text>
<text class="tk" transform="translate(1888.6 747) scale(0.985 1.04)" text-anchor="end">90</text>
<text class="tk" transform="translate(1888.6 813) scale(0.985 1.04)" text-anchor="end">80</text>
<text class="tk" transform="translate(1888.6 879) scale(0.985 1.04)" text-anchor="end">70</text>
<text class="tk" transform="translate(1888.6 945) scale(0.985 1.04)" text-anchor="end">60</text>
<text class="tk" transform="translate(1888.6 1010.5) scale(0.985 1.04)" text-anchor="end">50</text>
<text class="tk" transform="translate(1888.6 1076.5) scale(0.985 1.04)" text-anchor="end">40</text>
<text class="lb" x="2145.8" y="1197" text-anchor="middle">Time (days)</text>
<text class="lb" style="letter-spacing:0.12px" transform="translate(1837.7 890.8) rotate(-90)" text-anchor="middle">Progression-free (%)</text>
<text class="lb" x="2145.8" y="639.6" text-anchor="middle">High-MYC survival vs. R-1672 activity</text>
<rect class="lg" x="2214.8" y="662.9" width="156.1" height="38.8" rx="5" ry="5"/>
<path class="ln" stroke="#808080" d="M2223.7 681H2269.6"/>
<text class="tk" transform="translate(2286.8 688.8) scale(1.02 1.02)">Neither</text>
</g>
</svg>
</body>
</html>
